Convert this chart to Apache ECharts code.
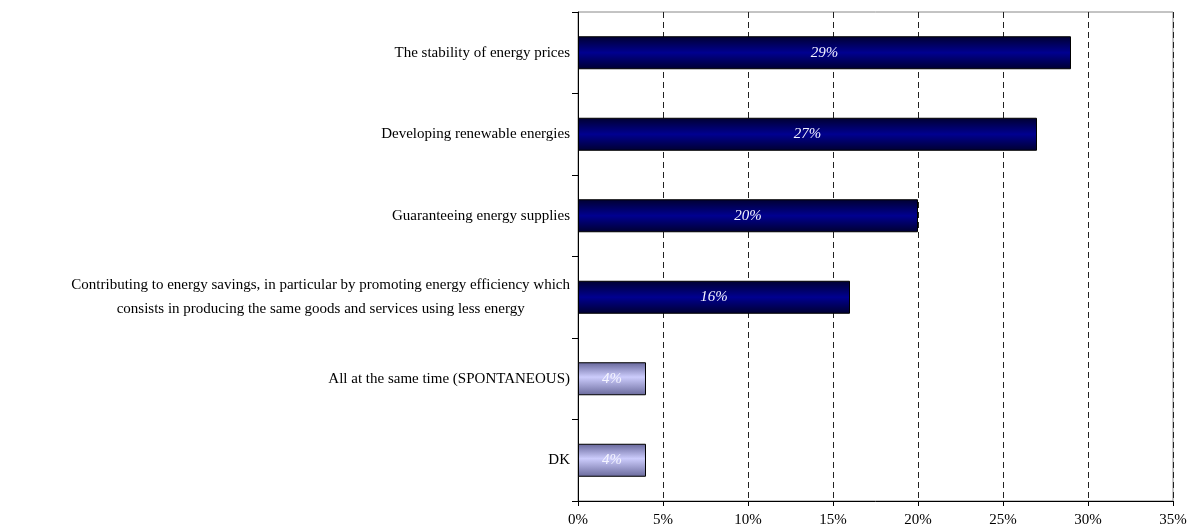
<!DOCTYPE html>
<html><head><meta charset="utf-8">
<script src="https://cdn.jsdelivr.net/npm/echarts@6/dist/echarts.min.js"></script>
<style>html,body{margin:0;padding:0;background:#fff}#c{width:1196px;height:531px}</style>
</head><body><div id="c"></div>
<script>
const categories = [
  "The stability of energy prices",
  "Developing renewable energies",
  "Guaranteeing energy supplies",
  "Contributing to energy savings, in particular by promoting energy efficiency which\nconsists in producing the same goods and services using less energy",
  "All at the same time (SPONTANEOUS)",
  "DK"
];
const values = [29, 27, 20, 16, 4, 4];
const highlight = [false, false, false, false, true, true];
const xTicks = [0, 5, 10, 15, 20, 25, 30, 35];

const darkGrad = new echarts.graphic.LinearGradient(0, 0, 0, 1, [
  {offset: 0, color: '#000030'}, {offset: 0.5, color: '#000090'}, {offset: 1, color: '#000030'}]);
const lightGrad = new echarts.graphic.LinearGradient(0, 0, 0, 1, [
  {offset: 0, color: '#66669a'}, {offset: 0.45, color: '#ccccfc'}, {offset: 1, color: '#6a6a9c'}]);

const cats = categories.slice().reverse();
const vals = values.slice().reverse();
const hl = highlight.slice().reverse();

const chart = echarts.init(document.getElementById('c'));
chart.setOption({
  animation: false,
  grid: {left: 578, right: 23, top: 12, bottom: 30, show: true, borderColor: '#888', borderWidth: 1},
  xAxis: {
    type: 'value', min: 0, max: 35, interval: 5,
    axisLine: {show: true, lineStyle: {color: '#000'}},
    axisTick: {show: true, length: 5, lineStyle: {color: '#000'}},
    axisLabel: {formatter: v => v + '%', fontFamily: 'Liberation Serif', fontSize: 15, color: '#000', margin: 12},
    splitLine: {show: true, lineStyle: {color: '#222', type: [6, 4], width: 1}}
  },
  yAxis: [{
    type: 'category', data: cats,
    axisLine: {show: true, lineStyle: {color: '#000'}},
    axisTick: {show: true, length: 6, lineStyle: {color: '#000'}},
    axisLabel: {
      fontFamily: 'Liberation Serif', fontSize: 15, color: '#000', margin: 8, lineHeight: 24,
      formatter: function (v) {
        if (v.indexOf('\n') >= 0) {
          return v.split('\n').map(s => '{c|' + s + '}').join('\n');
        }
        return v;
      },
      rich: {c: {align: 'center', fontFamily: 'Liberation Serif', fontSize: 15, color: '#000', lineHeight: 24}}
    }
  }, {
    type: 'category', data: cats, position: 'left', offset: 0,
    axisLine: {show: false},
    axisTick: {show: true, inside: true, alignWithLabel: true, length: 4, lineStyle: {color: '#000'}},
    axisLabel: {show: false}
  }],
  series: [{
    type: 'bar', yAxisIndex: 0, barWidth: 33,
    data: vals.map((v, i) => ({
      value: v,
      itemStyle: {color: hl[i] ? lightGrad : darkGrad, borderColor: '#000', borderWidth: 1}
    })),
    label: {
      show: true, position: 'inside', formatter: p => p.value + '%',
      color: '#f4f4ff', fontFamily: 'Liberation Serif', fontStyle: 'italic', fontSize: 15
    }
  }]
});
</script></body></html>
